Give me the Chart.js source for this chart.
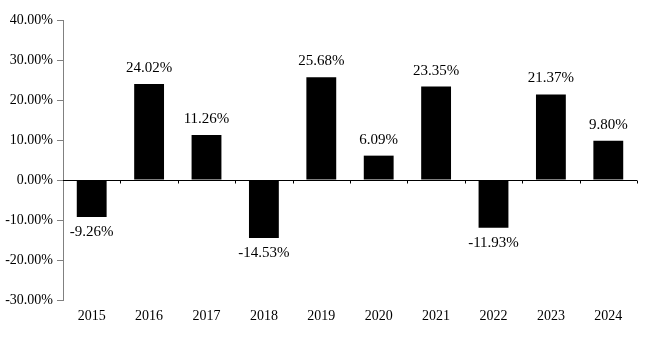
<!DOCTYPE html>
<html>
<head>
<meta charset="utf-8">
<script src="https://cdn.jsdelivr.net/npm/chart.js@4/dist/chart.umd.min.js"></script>
<style>
html,body{margin:0;padding:0;background:#fff;}
#wrap{width:663px;height:350px;}
</style>
</head>
<body>
<div id="wrap"><canvas id="c" width="663" height="350"></canvas></div>
<script>
const years = ["2015","2016","2017","2018","2019","2020","2021","2022","2023","2024"];
const returns = [-9.26, 24.02, 11.26, -14.53, 25.68, 6.09, 23.35, -11.93, 21.37, 9.80];
const yMin = -30, yMax = 40, yStep = 10;

const FONT = "'Liberation Serif', 'Times New Roman', serif";

const zeroAxisPlugin = {
  id: 'zeroAxis',
  afterDatasetsDraw(chart) {
    const {ctx, scales: {x, y}, chartArea} = chart;
    const y0 = Math.round(y.getPixelForValue(0)) + 0.5;
    ctx.save();
    ctx.strokeStyle = '#000';
    ctx.lineWidth = 1;
    ctx.beginPath();
    ctx.moveTo(chartArea.left, y0);
    ctx.lineTo(chartArea.right, y0);
    const half = (x.getPixelForValue(1) - x.getPixelForValue(0)) / 2;
    for (let i = 1; i <= years.length; i++) {
      let px = (i < years.length) ? x.getPixelForValue(i) - half : chartArea.right;
      px = Math.round(px) + 0.5;
      ctx.moveTo(px, y0);
      ctx.lineTo(px, y0 + 3);
    }
    ctx.stroke();
    ctx.restore();
  }
};

const labelPlugin = {
  id: 'valueLabels',
  afterDatasetsDraw(chart) {
    const {ctx} = chart;
    const meta = chart.getDatasetMeta(0);
    ctx.save();
    ctx.font = "15px " + FONT;
    ctx.fillStyle = '#000';
    ctx.textAlign = 'center';
    ctx.textBaseline = 'middle';
    meta.data.forEach((bar, i) => {
      const v = returns[i];
      const txt = v.toFixed(2) + '%';
      const yy = v >= 0 ? bar.y - 16 : bar.y + 15;
      ctx.fillText(txt, bar.x, yy);
    });
    ctx.restore();
  }
};

new Chart(document.getElementById('c'), {
  type: 'bar',
  data: {
    labels: years,
    datasets: [{
      data: returns,
      backgroundColor: '#000',
      borderWidth: 0,
      barPercentage: 0.52,
      categoryPercentage: 1.0
    }]
  },
  options: {
    responsive: false,
    animation: false,
    devicePixelRatio: 1,
    layout: { padding: { top: 20, right: 26, left: 0, bottom: 0 } },
    plugins: { legend: { display: false }, tooltip: { enabled: false } },
    scales: {
      x: {
        grid: { display: false, drawTicks: false },
        border: { display: false },
        ticks: { color: '#000', font: { family: FONT, size: 14 }, padding: 8, maxRotation: 0 },
        afterFit(s) { s.height = 50; }
      },
      y: {
        min: yMin, max: yMax,
        grid: { drawOnChartArea: false, drawTicks: true, tickLength: 6, color: '#808080' },
        border: { display: true, color: '#808080' },
        ticks: {
          stepSize: yStep,
          color: '#000',
          padding: 4,
          font: { family: FONT, size: 14 },
          callback: v => v.toFixed(2) + '%'
        },
        afterFit(s) { s.width = 63; }
      }
    }
  },
  plugins: [zeroAxisPlugin, labelPlugin]
});
</script>
</body>
</html>
